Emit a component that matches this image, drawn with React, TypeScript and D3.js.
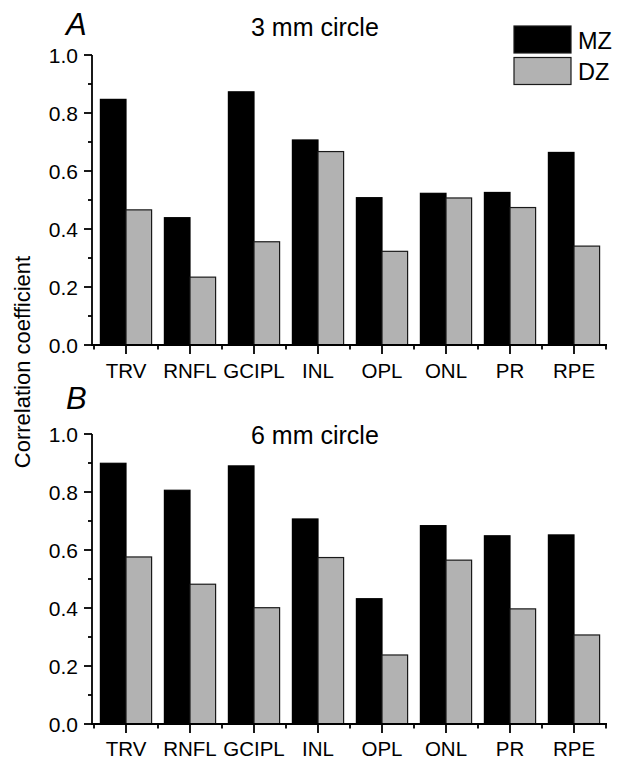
import * as d3 from "d3";

const categories = ["TRV", "RNFL", "GCIPL", "INL", "OPL", "ONL", "PR", "RPE"];
const seriesNames = ["MZ", "DZ"];

// panel A: 3 mm circle
const mz3 = [0.847, 0.439, 0.873, 0.707, 0.508, 0.523, 0.526, 0.664];
const dz3 = [0.466, 0.234, 0.356, 0.667, 0.323, 0.507, 0.474, 0.341];

// panel B: 6 mm circle
const mz6 = [0.899, 0.806, 0.890, 0.707, 0.432, 0.684, 0.649, 0.652];
const dz6 = [0.576, 0.482, 0.401, 0.574, 0.238, 0.565, 0.397, 0.307];

const yMajor = [0, 0.2, 0.4, 0.6, 0.8, 1.0];
const yMinor = [0.1, 0.3, 0.5, 0.7, 0.9];

const W = 618;
const H = 760;
const FONT = "'Liberation Sans', Arial, sans-serif";
const GREY = "#b2b2b2";
const EDGE = "#1a1a1a";

const x = d3.scaleBand<string>().domain(categories).range([94, 606]).padding(0);
const step = x.step();
const xSub = d3
  .scaleBand<string>()
  .domain(seriesNames)
  .range([step * 0.1, step * 0.9]);

type PanelProps = {
  letter: string;
  title: string;
  mz: number[];
  dz: number[];
  y0: number;
  y1: number;
  letterY: number;
  titleY: number;
  labelOffset: number;
  legend?: boolean;
};

function Panel({ letter, title, mz, dz, y0, y1, letterY, titleY, labelOffset, legend }: PanelProps) {
  const y = d3.scaleLinear().domain([0, 1]).range([y0, y1]);
  const axisX = 92;
  const series = [
    { name: "MZ", values: mz, fill: "#000", stroke: "#000" },
    { name: "DZ", values: dz, fill: GREY, stroke: EDGE },
  ];
  const boundaries = categories.map((c) => x(c)!).concat([x.range()[1]]);

  return (
    <g>
      <text x={66} y={letterY} fontSize={31} fontStyle="italic" fontFamily={FONT}>
        {letter}
      </text>
      <text x={251} y={titleY} fontSize={25} fontFamily={FONT}>
        {title}
      </text>

      {series.map((s) =>
        s.values.map((v, i) => (
          <rect
            key={s.name + i}
            x={x(categories[i])! + xSub(s.name)!}
            y={y(v)}
            width={xSub.bandwidth()}
            height={y(0) - y(v)}
            fill={s.fill}
            stroke={s.stroke}
            strokeWidth={1.2}
          />
        ))
      )}

      {/* y axis */}
      <line x1={axisX} x2={axisX} y1={y(1)} y2={y(0)} stroke="#000" strokeWidth={1.8} />
      {yMajor.map((t) => (
        <g key={t}>
          <line x1={axisX - 8} x2={axisX} y1={y(t)} y2={y(t)} stroke="#000" strokeWidth={1.8} />
          <text
            x={78}
            y={y(t)}
            dy="0.36em"
            textAnchor="end"
            fontSize={21}
            fontFamily={FONT}
          >
            {t.toFixed(1)}
          </text>
        </g>
      ))}
      {yMinor.map((t) => (
        <line key={t} x1={axisX - 4} x2={axisX} y1={y(t)} y2={y(t)} stroke="#000" strokeWidth={1.8} />
      ))}

      {/* x axis */}
      <line x1={axisX - 1} x2={x.range()[1] + 1} y1={y(0)} y2={y(0)} stroke="#000" strokeWidth={1.8} />
      {categories.map((c) => {
        const cx = x(c)! + step / 2;
        return (
          <g key={c}>
            <line x1={cx} x2={cx} y1={y(0)} y2={y(0) + 9} stroke="#000" strokeWidth={1.8} />
            <text
              x={cx}
              y={y(0) + labelOffset}
              textAnchor="middle"
              fontSize={20.5}
              fontFamily={FONT}
            >
              {c}
            </text>
          </g>
        );
      })}
      {boundaries.map((bx, i) => (
        <line key={i} x1={bx} x2={bx} y1={y(0)} y2={y(0) + 4.5} stroke="#000" strokeWidth={1.8} />
      ))}

      {legend && (
        <g>
          <rect x={514} y={26} width={57} height={27} fill="#000" stroke={EDGE} strokeWidth={1.2} />
          <rect x={514} y={57.5} width={57} height={27} fill={GREY} stroke={EDGE} strokeWidth={1.2} />
          <text x={578} y={48.5} fontSize={23.5} fontFamily={FONT}>
            MZ
          </text>
          <text x={578} y={80} fontSize={23.5} fontFamily={FONT}>
            DZ
          </text>
        </g>
      )}
    </g>
  );
}

export default function App() {
  return (
    <svg
      width={W}
      height={H}
      style={{ position: "absolute", left: 0, top: 0, background: "#fff" }}
    >
      <rect width={W} height={H} fill="#fff" />
      <Panel
        letter="A"
        title="3 mm circle"
        mz={mz3}
        dz={dz3}
        y0={345}
        y1={55}
        letterY={35}
        titleY={36}
        labelOffset={33}
        legend
      />
      <Panel
        letter="B"
        title="6 mm circle"
        mz={mz6}
        dz={dz6}
        y0={724}
        y1={434}
        letterY={409}
        titleY={444}
        labelOffset={31.5}
      />
      <text
        transform="translate(30,362) rotate(-90)"
        textAnchor="middle"
        fontSize={22}
        fontFamily={FONT}
      >
        Correlation coefficient
      </text>
    </svg>
  );
}
